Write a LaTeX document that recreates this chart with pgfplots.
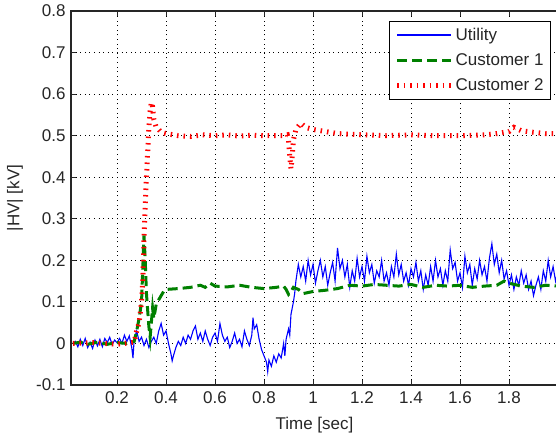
\documentclass[border=0pt]{standalone}
\usepackage{fontspec}
\setmainfont{Liberation Sans}
\usepackage{pgfplots}
\pgfplotsset{compat=1.18}
\definecolor{utilblue}{HTML}{0000FF}
\definecolor{custgreen}{HTML}{008000}
\definecolor{custred}{HTML}{FF0000}
\definecolor{txtgray}{HTML}{262626}

\begin{document}
\begin{tikzpicture}
  \begin{axis}[
    scale only axis,
    width=487pt,
    height=374pt,
    xmin=0.012, xmax=2.0,
    ymin=-0.1, ymax=0.8,
    xtick={0.2,0.4,0.6,0.8,1.0,1.2,1.4,1.6,1.8},
    xticklabels={0.2,0.4,0.6,0.8,1,1.2,1.4,1.6,1.8},
    ytick={-0.1,0,0.1,0.2,0.3,0.4,0.5,0.6,0.7,0.8},
    yticklabels={-0.1,0,0.1,0.2,0.3,0.4,0.5,0.6,0.7,0.8},
    tick align=inside,
    xtick pos=both, ytick pos=left,
    major tick length=5pt,
    tick style={txtgray, line width=1pt},
    axis line style={txtgray, line width=1.3pt},
    grid=major,
    grid style={black, line width=1pt, dash pattern=on 1pt off 3.6pt},
    every tick label/.append style={font=\fontsize{17}{19}\selectfont, text=txtgray},
    yticklabel style={xshift=-2pt},
    xticklabel style={yshift=-3pt},
    xlabel={Time [sec]},
    ylabel={|HV| [kV]},
    label style={font=\fontsize{17}{19}\selectfont, text=txtgray},
    x label style={at={(axis description cs:0.5,-0.107)}, anchor=center},
    y label style={at={(axis description cs:-0.115,0.5)}, anchor=center},
    legend style={at={(1,1)}, anchor=north east, xshift=-7pt, yshift=-10pt,
      draw=black, line width=1pt, fill=white,
      font=\fontsize{17}{19}\selectfont, text=txtgray,
      inner xsep=5pt, inner ysep=5pt, row sep=7.5pt, cells={anchor=west}},
    legend image code/.code={\draw[#1] (0pt,0pt) -- (54pt,0pt);},
  ]
    \coordinate (sw) at (rel axis cs:0,0);

    \addplot[utilblue, line width=1.1pt,
      legend image code/.code={\draw[utilblue, line width=1.6pt] (0pt,0.3pt) -- (54pt,0.3pt);}]
      coordinates {
      (0.02,0.000) (0.03,0.005) (0.04,-0.008) (0.05,0.010) (0.06,-0.005)
      (0.07,0.012) (0.08,-0.010) (0.09,0.003) (0.10,-0.012) (0.11,0.008)
      (0.12,-0.006) (0.13,0.010) (0.14,-0.008) (0.15,0.012) (0.16,0.002)
      (0.17,0.015) (0.18,-0.003) (0.19,0.008) (0.20,0.002) (0.21,0.012)
      (0.22,0.000) (0.23,0.020) (0.24,0.005) (0.25,0.018) (0.26,-0.010)
      (0.265,-0.035) (0.27,0.010) (0.28,0.030) (0.29,0.005) (0.30,0.015)
      (0.31,-0.005) (0.32,0.010) (0.33,-0.010) (0.34,0.005) (0.35,0.015)
      (0.36,0.000) (0.37,0.030) (0.38,0.048) (0.39,0.020) (0.40,0.030)
      (0.41,0.000) (0.42,-0.025) (0.425,-0.042) (0.43,-0.030) (0.44,-0.010)
      (0.45,0.005) (0.46,-0.005) (0.47,0.015) (0.48,0.000) (0.49,0.020)
      (0.50,0.010) (0.51,0.030) (0.52,0.042) (0.53,0.010) (0.54,0.025)
      (0.55,0.005) (0.56,0.030) (0.57,0.010) (0.58,-0.005) (0.59,0.015)
      (0.60,0.025) (0.61,0.005) (0.62,0.048) (0.63,0.020) (0.64,0.005)
      (0.65,0.015) (0.66,-0.010) (0.67,0.005) (0.68,0.025) (0.69,0.000)
      (0.70,0.010) (0.71,-0.008) (0.72,0.030) (0.73,0.010) (0.74,-0.005)
      (0.75,0.020) (0.755,0.062) (0.76,0.035) (0.77,0.045) (0.78,0.010)
      (0.79,-0.015) (0.80,-0.030) (0.81,-0.045) (0.815,-0.068) (0.82,-0.040)
      (0.83,-0.055) (0.84,-0.030) (0.85,-0.045) (0.86,-0.025) (0.87,-0.035)
      (0.88,0.000) (0.885,-0.030) (0.89,0.010) (0.90,0.035) (0.905,0.020)
      (0.91,0.070) (0.92,0.100) (0.925,0.120) (0.93,0.150) (0.94,0.190)
      (0.95,0.160) (0.96,0.185) (0.97,0.150) (0.98,0.200) (0.99,0.165)
      (1.00,0.190) (1.01,0.145) (1.02,0.175) (1.03,0.200) (1.04,0.160)
      (1.05,0.185) (1.06,0.140) (1.07,0.170) (1.08,0.195) (1.09,0.150)
      (1.10,0.230) (1.11,0.180) (1.12,0.200) (1.13,0.160) (1.14,0.190)
      (1.15,0.135) (1.16,0.175) (1.17,0.150) (1.18,0.205) (1.19,0.160)
      (1.20,0.185) (1.21,0.150) (1.22,0.210) (1.23,0.170) (1.24,0.190)
      (1.25,0.145) (1.26,0.175) (1.27,0.160) (1.28,0.200) (1.29,0.150)
      (1.30,0.170) (1.31,0.140) (1.32,0.185) (1.33,0.160) (1.34,0.215)
      (1.35,0.165) (1.36,0.190) (1.37,0.150) (1.38,0.170) (1.39,0.140)
      (1.40,0.180) (1.41,0.160) (1.42,0.195) (1.43,0.150) (1.44,0.175)
      (1.45,0.130) (1.46,0.165) (1.47,0.140) (1.48,0.185) (1.49,0.150)
      (1.50,0.200) (1.51,0.160) (1.52,0.180) (1.53,0.140) (1.54,0.175)
      (1.55,0.150) (1.56,0.225) (1.57,0.180) (1.58,0.195) (1.59,0.150)
      (1.60,0.170) (1.61,0.135) (1.62,0.210) (1.63,0.170) (1.64,0.190)
      (1.65,0.140) (1.66,0.180) (1.67,0.155) (1.68,0.200) (1.69,0.165)
      (1.70,0.185) (1.71,0.150) (1.72,0.205) (1.73,0.240) (1.74,0.190)
      (1.75,0.215) (1.76,0.170) (1.77,0.200) (1.78,0.155) (1.79,0.175)
      (1.80,0.140) (1.81,0.165) (1.82,0.130) (1.83,0.160) (1.84,0.140)
      (1.85,0.175) (1.86,0.145) (1.87,0.165) (1.88,0.130) (1.89,0.150)
      (1.90,0.115) (1.91,0.140) (1.92,0.160) (1.93,0.130) (1.94,0.175)
      (1.95,0.150) (1.96,0.200) (1.97,0.160) (1.98,0.185) (1.99,0.150)
      (2.00,0.175)
    };
    \addlegendentry{Utility}

    \addplot[custgreen, line width=3pt, dash pattern=on 10pt off 5pt] coordinates {
      (0.02,0) (0.05,0.003) (0.08,-0.002) (0.12,0.003) (0.16,-0.002)
      (0.20,0.002) (0.24,0.000) (0.27,0.005) (0.28,0.030) (0.29,0.060)
      (0.295,0.080) (0.30,0.100) (0.305,0.180) (0.31,0.260) (0.315,0.200)
      (0.32,0.120) (0.325,0.080) (0.33,0.040) (0.335,0.015) (0.34,0.050)
      (0.345,0.085) (0.35,0.060) (0.36,0.095) (0.37,0.105) (0.38,0.115)
      (0.39,0.125) (0.40,0.130) (0.45,0.132) (0.50,0.135) (0.54,0.140)
      (0.56,0.135) (0.58,0.145) (0.60,0.138) (0.65,0.136) (0.70,0.140)
      (0.75,0.135) (0.80,0.132) (0.85,0.135) (0.88,0.138) (0.89,0.130)
      (0.90,0.118) (0.91,0.125) (0.92,0.135) (0.94,0.130) (0.96,0.120)
      (1.00,0.125) (1.05,0.128) (1.10,0.132) (1.15,0.140) (1.20,0.138)
      (1.25,0.142) (1.30,0.140) (1.35,0.138) (1.40,0.142) (1.45,0.135)
      (1.50,0.140) (1.55,0.138) (1.60,0.140) (1.65,0.135) (1.70,0.138)
      (1.75,0.140) (1.78,0.150) (1.80,0.145) (1.85,0.138) (1.90,0.135)
      (1.95,0.140) (2.00,0.138)
    };
    \addlegendentry{Customer 1}

    \addplot[custred, line width=5pt, dash pattern=on 1.5pt off 5pt] coordinates {
      (0.02,0) (0.10,0.002) (0.20,-0.002) (0.27,0.003) (0.28,0.030)
      (0.29,0.050) (0.30,0.100) (0.305,0.150) (0.31,0.250) (0.315,0.330)
      (0.32,0.400) (0.325,0.460) (0.33,0.520) (0.335,0.560) (0.34,0.580)
      (0.345,0.570) (0.35,0.540) (0.36,0.520) (0.37,0.515) (0.38,0.508)
      (0.40,0.505) (0.45,0.500) (0.50,0.498) (0.55,0.502) (0.60,0.500)
      (0.65,0.502) (0.70,0.499) (0.75,0.501) (0.80,0.500) (0.85,0.500)
      (0.88,0.500) (0.895,0.502) (0.90,0.490) (0.905,0.450) (0.91,0.420)
      (0.915,0.450) (0.92,0.490) (0.93,0.515) (0.95,0.530) (0.97,0.520)
      (1.00,0.515) (1.05,0.510) (1.10,0.505) (1.20,0.502) (1.30,0.500)
      (1.40,0.502) (1.50,0.500) (1.60,0.500) (1.70,0.502) (1.75,0.505)
      (1.80,0.510) (1.82,0.520) (1.85,0.512) (1.90,0.508) (1.95,0.505)
      (2.00,0.505)
    };
    \addlegendentry{Customer 2}
  \end{axis}
  \pgfresetboundingbox
  \path[use as bounding box] (sw) ++(-71pt,-58pt) rectangle ++(556pt,443pt);
\end{tikzpicture}
\end{document}
